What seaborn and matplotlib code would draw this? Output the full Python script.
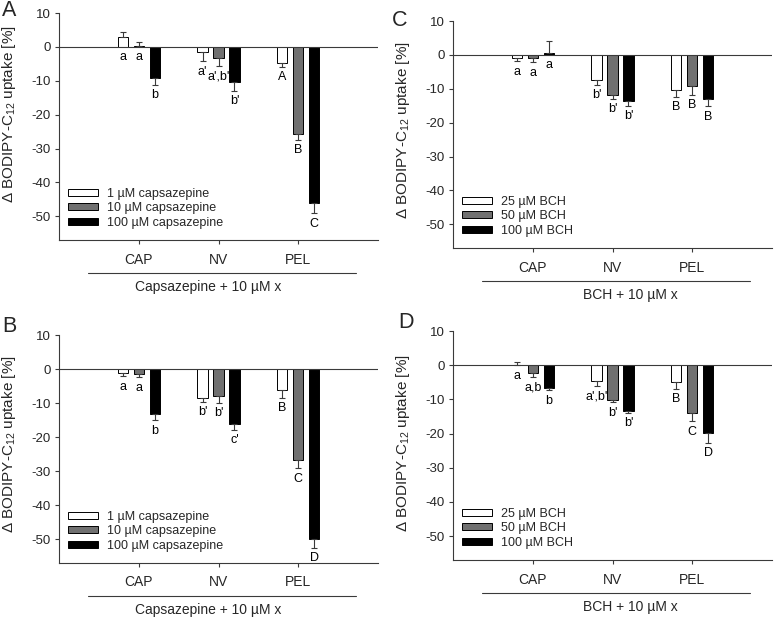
import numpy as np
import pandas as pd
import matplotlib
matplotlib.use("Agg")
import matplotlib.pyplot as plt
import matplotlib.transforms as mtransforms
from matplotlib.container import BarContainer
import seaborn as sns

# ---------------- data ----------------
categories = ["CAP", "NV", "PEL"]
legend_cpz = ["1 µM capsazepine", "10 µM capsazepine", "100 µM capsazepine"]
legend_bch = ["25 µM BCH", "50 µM BCH", "100 µM BCH"]

# values per concentration (rows) over categories (columns)
A_vals = [[2.8, -1.5, -4.8], [0.3, -3.2, -25.6], [-9.3, -10.5, -46.2]]
A_err = [[1.7, 2.7, 1.0], [1.0, 2.5, 1.8], [1.9, 2.4, 2.9]]
A_letters = [["a", "a'", "A"], ["a", "a',b'", "B"], ["b", "b'", "C"]]

B_vals = [[-1.3, -8.6, -6.2], [-1.6, -7.8, -26.8], [-13.1, -16.3, -49.9]]
B_err = [[0.8, 1.0, 2.3], [0.8, 2.1, 2.4], [1.9, 1.6, 2.6]]
B_letters = [["a", "b'", "B"], ["a", "b'", "C"], ["b", "c'", "D"]]

C_vals = [[-0.8, -7.5, -10.4], [-1.0, -11.9, -9.3], [0.7, -13.6, -13.0]]
C_err = [[1.1, 1.3, 2.0], [1.2, 1.1, 2.4], [3.5, 1.4, 2.1]]
C_letters = [["a", "b'", "B"], ["a", "b'", "B"], ["a", "b'", "B"]]

D_vals = [[0.1, -4.7, -4.9], [-2.2, -10.3, -13.9], [-6.6, -13.3, -19.8]]
D_err = [[0.8, 1.3, 2.0], [1.2, 0.6, 2.5], [0.8, 0.6, 2.9]]
D_letters = [["a", "a',b'", "B"], ["a,b", "b'", "C"], ["b", "b'", "D"]]

group_cpz = "Capsazepine + 10 µM x"
group_bch = "BCH + 10 µM x"
ylabel = "Δ BODIPY-C$_{12}$ uptake [%]"
yticks = [10, 0, -10, -20, -30, -40, -50]

# ---------------- style ----------------
sns.set_style("white")
plt.rcParams["font.family"] = ["Liberation Sans", "DejaVu Sans"]
plt.rcParams["mathtext.default"] = "regular"

W, H = 774, 617
fig = plt.figure(figsize=(W / 100, H / 100), dpi=100)

def ax_rect(left, top, right, bottom):
    return [left / W, 1 - bottom / H, (right - left) / W, (bottom - top) / H]

palette = ["white", "#707070", "black"]
line_col = "#3a3a3a"

panels = [
    ("A", ax_rect(59, 13, 378, 240), A_vals, A_err, A_letters, legend_cpz, group_cpz, 0.875, (2, 10), 0.555),
    ("C", ax_rect(453, 21, 772, 248), C_vals, C_err, C_letters, legend_bch, group_bch, 1.225, (392, 21), 0.52),
    ("B", ax_rect(59, 335, 378, 563), B_vals, B_err, B_letters, legend_cpz, group_cpz, 0.875, (2, 326), 0.52),
    ("D", ax_rect(453, 331, 772, 560), D_vals, D_err, D_letters, legend_bch, group_bch, 1.225, (398, 322), 0.51),
]

for name, rect, vals, errs, letters, legend_labels, group_label, gx, (px, py), ly in panels:
    ax = fig.add_axes(rect)
    df = pd.DataFrame({
        "cat": [c for _ in legend_labels for c in categories],
        "conc": [l for l in legend_labels for _ in categories],
        "val": [v for row in vals for v in row],
    })
    sns.barplot(data=df, x="cat", y="val", hue="conc", hue_order=legend_labels,
                order=categories, palette=palette, edgecolor="black", linewidth=0.7,
                width=0.6, gap=0.35, errorbar=None, ax=ax)

    bar_conts = [c for c in ax.containers if isinstance(c, BarContainer)]
    for i, cont in enumerate(bar_conts):
        for j, patch in enumerate(cont.patches):
            xc = patch.get_x() + patch.get_width() / 2
            v = vals[i][j]
            e = errs[i][j]
            if v >= 0:
                yerr = [[0], [e]]
                end = 0
            else:
                yerr = [[e], [0]]
                end = v - e
            ax.errorbar([xc], [v], yerr=yerr, fmt="none", ecolor=line_col,
                        elinewidth=0.8, capsize=2.2, capthick=0.8, zorder=3)
            ax.annotate(letters[i][j], xy=(xc, end), xytext=(0, -10.5),
                        textcoords="offset pixels", ha="center", va="center",
                        fontsize=9, color="black")

    ax.axhline(0, color=line_col, lw=0.8, zorder=4)
    ax.set_xlim(-1, 3)
    ax.set_ylim(-57, 10)
    ax.set_yticks(yticks)
    ax.set_yticklabels([str(t) for t in yticks])
    ax.set_xlabel("")
    ax.set_ylabel(ylabel, fontsize=11)
    ax.yaxis.set_label_coords(-0.128, ly)
    for s in ["top", "right"]:
        ax.spines[s].set_visible(False)
    for s in ["left", "bottom"]:
        ax.spines[s].set_color(line_col)
        ax.spines[s].set_linewidth(0.8)
    ax.tick_params(axis="y", direction="out", length=3, width=0.8, color=line_col,
                   labelsize=9.5, pad=3, left=True)
    ax.tick_params(axis="x", direction="out", length=3, width=0.8, color=line_col,
                   labelsize=10, pad=6, bottom=True)

    sns.move_legend(ax, loc="lower left", bbox_to_anchor=(0.028, 0.05),
                    frameon=False, title=None, fontsize=9,
                    handlelength=2.4, handleheight=0.5, handletextpad=0.7,
                    labelspacing=0.2, borderpad=0, borderaxespad=0)

    trans = mtransforms.blended_transform_factory(ax.transData, ax.transAxes)
    ax.plot([-0.64, 2.73], [-0.145, -0.145], transform=trans, color=line_col,
            lw=0.8, clip_on=False)
    ax.text(gx, -0.205, group_label, transform=trans, ha="center", va="center",
            fontsize=10)

    fig.text(px / W, 1 - py / H, name, ha="left", va="center", fontsize=15.5)

fig.savefig("out.png", dpi=100)
